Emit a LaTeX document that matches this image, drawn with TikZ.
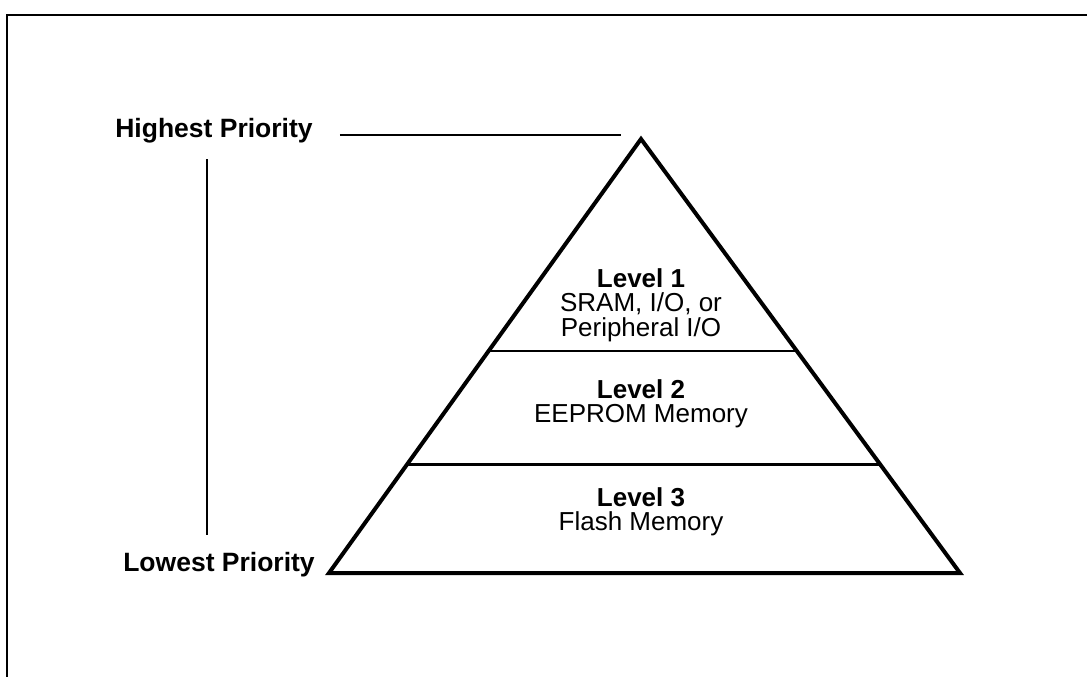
\documentclass[tikz,border=0pt]{standalone}
\usepackage{fontspec}
\setmainfont{Liberation Sans}
\usetikzlibrary{calc}
\tikzset{
  pyramid/.style={line width=4pt,line join=miter},
  divider/.style={line width=2.5pt},
  rule/.style={line width=2.5pt},
  level/.style={align=center,inner sep=0pt},
  prio/.style={font=\fontsize{26.5}{24}\selectfont\bfseries,inner sep=0pt}
}
\begin{document}
\begin{tikzpicture}[x=1pt,y=-1pt,line cap=butt,font=\fontsize{26}{24.5}\selectfont]
			% Khung
			\useasboundingbox (0,0) rectangle (1087,677);
			\fill[white] (0,0) rectangle (1087,677);
			\draw[line width=2pt] (7,677) -- (7,15) -- (1087,15);
			% Kim tu thap
			\coordinate (apex) at (641,139);
			\coordinate (bl) at (329,573);
			\coordinate (br) at (960,573);
			\draw[pyramid] (bl) -- (apex) -- (br) -- cycle;
			\draw[divider] ($(bl)!0.511!(apex)$) -- ($(br)!0.511!(apex)$);
			\draw[divider] ($(bl)!0.25!(apex)$) -- ($(br)!0.25!(apex)$);
			\node[level] (l1) at (641,305) {\textbf{Level 1}\\SRAM, I/O, or\\Peripheral I/O};
			\node[level] (l2) at (641,404) {\textbf{Level 2}\\EEPROM Memory};
			\node[level] (l3) at (641,512) {\textbf{Level 3}\\Flash Memory};
			% Thang uu tien
			\node[prio] (hp) at (214,131) {Highest Priority};
			\node[prio] (lp) at (219,565) {Lowest Priority};
			\draw[rule] ([xshift=27pt,yshift=-4pt]hp.east) -- ([xshift=-20pt,yshift=-4pt]apex |- hp.east);
			\coordinate (top) at (207,159);
			\coordinate (bot) at (207,535);
			\draw[rule] (top) -- (bot);
		\end{tikzpicture}
\end{document}
